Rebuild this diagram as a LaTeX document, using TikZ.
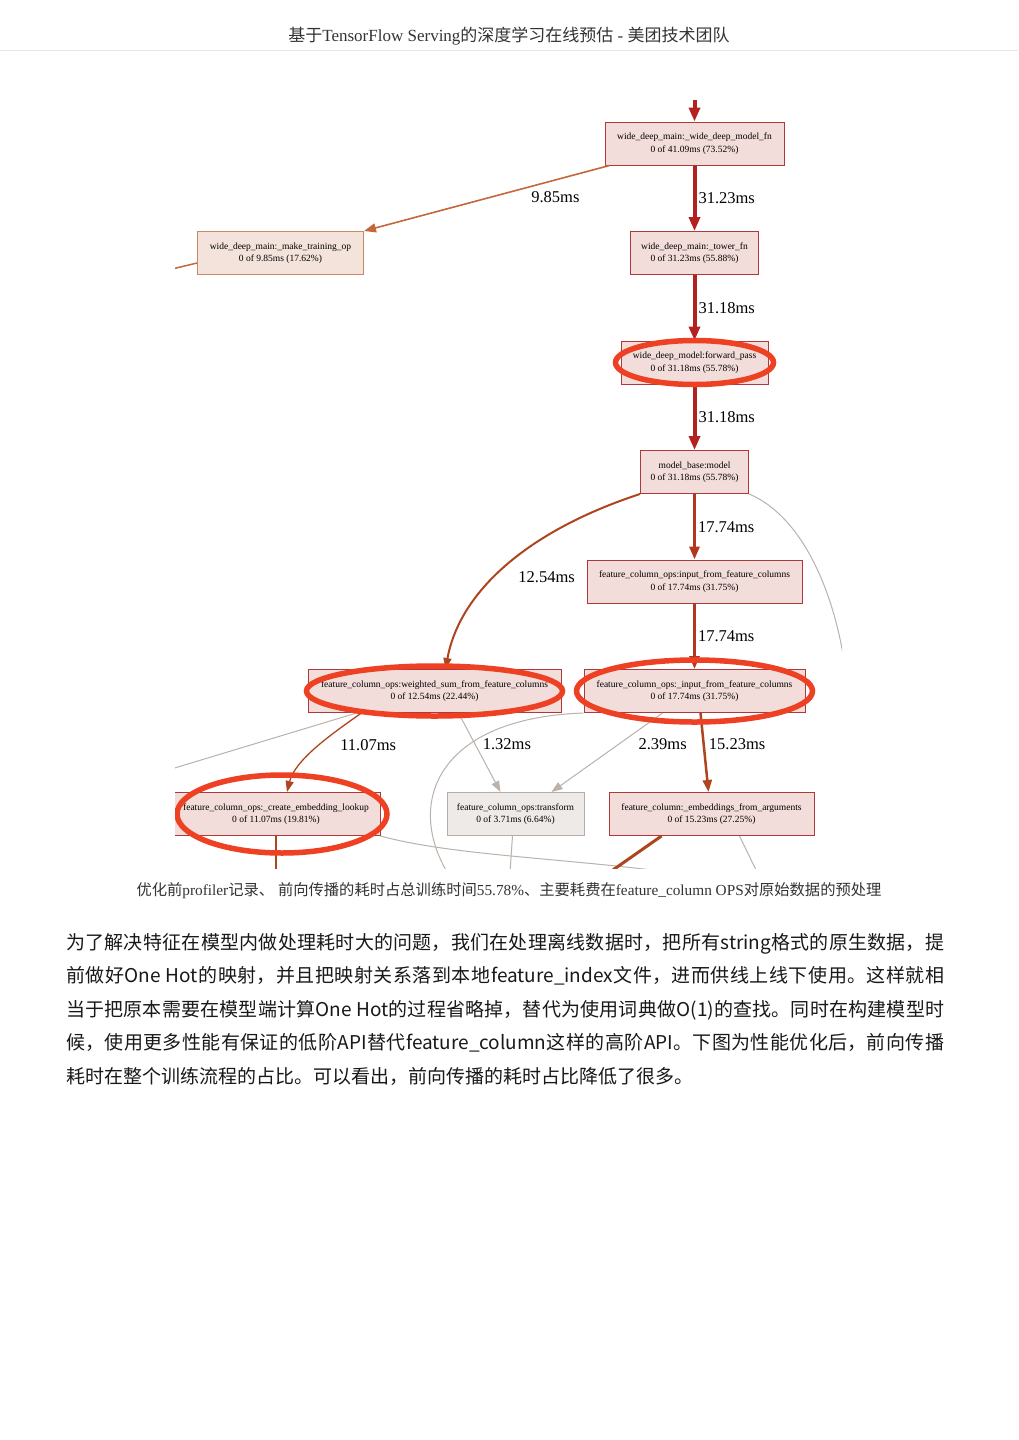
\documentclass[tikz,border=0pt]{standalone}
\usepackage{fontspec}
\setmainfont{Liberation Serif}
\newfontfamily\cjk{Noto Sans CJK SC}
\usetikzlibrary{arrows.meta,positioning}
\definecolor{HotRed}{HTML}{B3221E}
\definecolor{BrickRed}{HTML}{B0381E}
\definecolor{RustBrown}{HTML}{AF451E}
\definecolor{BurntOrange}{HTML}{C2683A}
\definecolor{AshGray}{HTML}{BAB2AB}
\definecolor{BoxPink}{HTML}{F2DDDA}
\definecolor{BoxEdge}{HTML}{B0383A}
\definecolor{WarmFill}{HTML}{F4E3DA}
\definecolor{WarmEdge}{HTML}{C98866}
\definecolor{ColdFill}{HTML}{EEEAE8}
\definecolor{ColdEdge}{HTML}{B8ADA6}
\definecolor{RingRed}{HTML}{EE4123}
\definecolor{InkGray}{HTML}{333333}
\definecolor{RuleGray}{HTML}{E8E8E8}
% paragraph font with CJK line breaking
\newcommand\parafont{\cjk\fontsize{19}{33.5}\selectfont
  \XeTeXlinebreaklocale "zh"\relax
  \XeTeXlinebreakskip=0pt plus 2pt\relax
  \tolerance=9999\relax}
\tikzset{
  % Base box
  FB/.style={rectangle,minimum height=43pt,inner sep=2pt,
             text centered,align=center,draw,line width=1pt,
             font=\fontsize{9.5}{12.5}\selectfont},
  % Box variants
  nH/.style={FB,fill=BoxPink, draw=BoxEdge},
  nW/.style={FB,fill=WarmFill,draw=WarmEdge},
  nC/.style={FB,fill=ColdFill,draw=ColdEdge},
  % Highlight ring
  RG/.style={draw=RingRed,line width=5.5pt},
  % Arrows
  aH/.style={-{Triangle[length=14pt,width=11pt]},line width=4pt,color=HotRed},
  aM/.style={-{Triangle[length=13pt,width=10pt]},line width=3pt,color=BrickRed},
  aK/.style={-{Triangle[length=12pt,width=9pt]},line width=2.5pt,color=RustBrown},
  aB/.style={-{Triangle[length=11pt,width=8pt]},line width=2pt,color=RustBrown},
  aT/.style={-{Triangle[length=11pt,width=8pt]},line width=1.3pt,color=RustBrown},
  aO/.style={-{Triangle[length=12pt,width=9pt]},line width=1.6pt,color=BurntOrange},
  aG/.style={-{Triangle[length=11pt,width=8pt]},line width=1pt,color=AshGray},
  % Plain lines leaving the view
  lG/.style={line width=1pt,color=AshGray},
  lB/.style={line width=1.5pt,color=RustBrown},
  % Label styles
  LB/.style={font=\fontsize{16.5}{18}\selectfont,inner sep=2pt,text=black},
  HD/.style={font=\fontsize{17}{20}\selectfont,text=InkGray},
  CP/.style={font=\fontsize{15.3}{18}\selectfont,text=InkGray},
  PA/.style={font=\parafont,text=black!90,text width=878pt,align=justify,inner sep=0pt}
}
\begin{document}
\begin{tikzpicture}[x=1pt,y=-1pt,node distance=65.5pt]
  \useasboundingbox[fill=white] (0,0) rectangle (1018,1440);
  % page header
  \node[HD] (title) at (509,36) {{\cjk 基于}TensorFlow Serving{\cjk 的深度学习在线预估} - {\cjk 美团技术团队}};
  \draw[RuleGray,line width=1pt] (0,50) -- (1018,50);

  \begin{scope}
  \clip (175,100) rectangle (842,868);
  \node[nH,minimum width=179pt] (modelfn) at (694.5,143.5) {wide\_deep\_main:\_wide\_deep\_model\_fn\\0 of 41.09ms (73.52\%)};
  \node[nH,minimum width=128pt,below=of modelfn] (tower)  {wide\_deep\_main:\_tower\_fn\\0 of 31.23ms (55.88\%)};
  \node[nH,minimum width=147pt,below=of tower]   (fwd)    {wide\_deep\_model:forward\_pass\\0 of 31.18ms (55.78\%)};
  \node[nH,minimum width=108pt,below=of fwd]     (base)   {model\_base:model\\0 of 31.18ms (55.78\%)};
  \node[nH,minimum width=215pt,below=of base]    (input1) {feature\_column\_ops:input\_from\_feature\_columns\\0 of 17.74ms (31.75\%)};
  \node[nH,minimum width=221pt,below=of input1]  (input2) {feature\_column\_ops:\_input\_from\_feature\_columns\\0 of 17.74ms (31.75\%)};
  \node[nH,minimum width=253pt,left=22pt of input2] (wsum) {feature\_column\_ops:weighted\_sum\_from\_feature\_columns\\0 of 12.54ms (22.44\%)};
  \node[nW,minimum width=166pt,left=266pt of tower] (mkop) {wide\_deep\_main:\_make\_training\_op\\0 of 9.85ms (17.62\%)};
  \node[nH,minimum width=208pt] (lookup)  at (276,814)   {feature\_column\_ops:\_create\_embedding\_lookup\\0 of 11.07ms (19.81\%)};
  \node[nC,minimum width=137pt] (xform)   at (515.5,814) {feature\_column\_ops:transform\\0 of 3.71ms (6.64\%)};
  \node[nH,minimum width=205pt] (embargs) at (711.5,814) {feature\_column:\_embeddings\_from\_arguments\\0 of 15.23ms (27.25\%)};

  % ends outside the view
  \coordinate (entry) at (694.5,98);
  \coordinate (lftB)  at (168,270);
  \coordinate (rgtE)  at (848,690);
  \coordinate (lftG)  at (168,770);
  \coordinate (dnH)   at (447,872);
  \coordinate (dnI)   at (276,872);
  \coordinate (rgtI)  at (668,872);
  \coordinate (dnJ)   at (510,872);
  \coordinate (dnKa)  at (610,872);
  \coordinate (dnKb)  at (757,872);

  \draw[aH](entry)--(modelfn);
  \draw[aH](modelfn)--node[LB,right]{31.23ms}(tower);
  \draw[aH](tower)--node[LB,right]{31.18ms}(fwd);
  \draw[aH](fwd)--node[LB,right]{31.18ms}(base);
  \draw[aM](base)--node[LB,right]{17.74ms}(input1);
  \draw[aM](input1)--node[LB,right]{17.74ms}(input2);
  \draw[aO]([xshift=5pt]modelfn.south west)--node[LB,pos=0.33,anchor=north west,yshift=-2pt]{9.85ms}(mkop.north east);
  \draw[aB](base.south west) .. controls (530,530) and (460,590) .. node[LB,pos=0.55,anchor=west,xshift=18pt,yshift=-3pt]{12.54ms}([xshift=11pt]wsum.north);
  \draw[aT]([xshift=-73pt]wsum.south) .. controls (330,735) and (295,760) .. node[LB,pos=0.45,anchor=west,xshift=18pt]{11.07ms}([xshift=11pt]lookup.north);
  \draw[aG]([xshift=24pt]wsum.south)--node[LB,pos=0.4,anchor=west,xshift=5pt]{1.32ms}([xshift=-15pt]xform.north);
  \draw[aG]([xshift=-32pt]input2.south)--node[LB,pos=0.4,anchor=west,xshift=18pt]{2.39ms}([xshift=36pt]xform.north);
  \draw[aK]([xshift=6pt]input2.south)--node[LB,pos=0.4,anchor=west,xshift=2pt]{15.23ms}([xshift=-3pt]embargs.north);

  \draw[lB,color=BurntOrange]([yshift=-10pt]mkop.west)--(lftB);
  \draw[lG](base.south east) .. controls (800,515) and (838,590) .. (rgtE);
  \draw[lG]([xshift=-78pt]wsum.south)--(lftG);
  \draw[lG](input2.south west) .. controls (440,718) and (405,800) .. (dnH);
  \draw[lG](lookup.south east) .. controls (450,855) and (560,858) .. (rgtI);
  \draw[lG]([xshift=-3pt]xform.south)--(dnJ);
  \draw[lG]([xshift=28pt]embargs.south)--(dnKb);
  \draw[lB,line width=3pt]([xshift=-50pt]embargs.south)--(dnKa);
  \draw[lB](lookup.south)--(dnI);

  % highlight rings
  \draw[RG](fwd)    ellipse [x radius=79, y radius=22];
  \draw[RG](wsum)   ellipse [x radius=128,y radius=25];
  \draw[RG](input2) ellipse [x radius=118,y radius=31];
  \draw[RG]([xshift=6pt]lookup) ellipse [x radius=105,y radius=39];
  \end{scope}

  % caption and text
  \node[CP] (caption) at (509,891) {{\cjk 优化前}profiler{\cjk 记录、} {\cjk 前向传播的耗时占总训练时间}55.78\%{\cjk 、主要耗费在}feature\_column OPS{\cjk 对原始数据的预处理}};
  \node[PA,anchor=north west] (para) at (66,933) {为了解决特征在模型内做处理耗时大的问题，我们在处理离线数据时，把所有string格式的原生数据，提\linebreak
    前做好One Hot的映射，并且把映射关系落到本地feature\_index文件，进而供线上线下使用。这样就相\linebreak
    当于把原本需要在模型端计算One Hot的过程省略掉，替代为使用词典做O(1)的查找。同时在构建模型时\linebreak
    候，使用更多性能有保证的低阶API替代feature\_column这样的高阶API。下图为性能优化后，前向传播\linebreak
    耗时在整个训练流程的占比。可以看出，前向传播的耗时占比降低了很多。};
\end{tikzpicture}
\end{document}
